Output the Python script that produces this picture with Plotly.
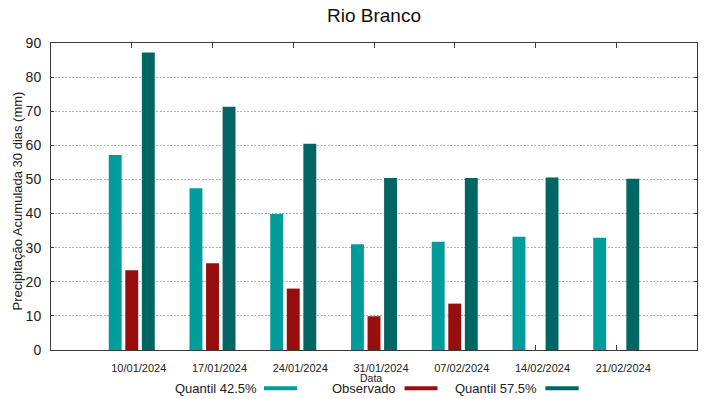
import plotly.graph_objects as go

# ---- data ----
dates = ["10/01/2024", "17/01/2024", "24/01/2024", "31/01/2024",
         "07/02/2024", "14/02/2024", "21/02/2024"]
series_names = ["Quantil 42.5%", "Observado", "Quantil 57.5%"]
q425 = [57.2, 47.4, 39.9, 31.0, 31.7, 33.2, 32.9]
observado = [23.4, 25.4, 18.0, 9.9, 13.6, None, None]
q575 = [87.2, 71.3, 60.5, 50.4, 50.4, 50.6, 50.2]
y_ticks = [0, 10, 20, 30, 40, 50, 60, 70, 80, 90]

colors = ["#009b9b", "#980e0e", "#006664"]
FONT = "Liberation Sans, Arial, Helvetica, sans-serif"

fig = go.Figure()
for name, vals, col in zip(series_names, [q425, observado, q575], colors):
    fig.add_trace(go.Bar(x=dates, y=vals, name=name, marker=dict(color=col, line=dict(width=0)),
                         showlegend=False))

fig.update_layout(
    width=719, height=399,
    margin=dict(l=51, r=22, t=43, b=49),
    paper_bgcolor="white", plot_bgcolor="white",
    barmode="group", bargap=0.385, bargroupgap=0.22,
    font=dict(family=FONT, color="#222222"),
    title=dict(text="Rio Branco", x=(374 - 51) / 646, xref="paper", xanchor="center",
               y=1 - 15 / 399, yref="container", yanchor="middle",
               font=dict(size=19, family=FONT, color="#111111")),
)

fig.update_xaxes(
    type="category", range=[-1, 7],
    showline=True, linecolor="#3a3a3a", linewidth=1, mirror="ticks",
    ticks="inside", ticklen=5, tickcolor="#3a3a3a", tickwidth=1,
    showgrid=False, zeroline=False,
    tickfont=dict(size=11, family=FONT, color="#222222"),
    ticklabelshift=7, ticklabelstandoff=8,
    layer="below traces",
)
fig.update_yaxes(
    range=[0, 90], tickvals=y_ticks,
    showline=True, linecolor="#3a3a3a", linewidth=1, mirror="ticks",
    ticks="inside", ticklen=3, tickcolor="#3a3a3a",
    showgrid=True, gridcolor="#b0b0b0", gridwidth=1, griddash="2px,1.5px",
    zeroline=False,
    tickfont=dict(size=14, family=FONT, color="#222222"),
    ticklabelstandoff=6,
)

ann = []
# y axis title
ann.append(dict(text="Precipitação Acumulada 30 dias (mm)", textangle=-90,
                xref="paper", yref="paper", x=(17 - 51) / 646, y=(350 - 201.5) / 307,
                xanchor="center", yanchor="middle", showarrow=False, borderpad=0,
                font=dict(size=13, family=FONT, color="#222222")))
# x axis title
ann.append(dict(text="Data", xref="paper", yref="paper",
                x=(370.5 - 51) / 646, y=(350 - 378) / 307,
                xanchor="center", yanchor="middle", showarrow=False, borderpad=0,
                font=dict(size=10.5, family=FONT, color="#222222")))

# custom legend (text followed by swatch, gnuplot style)
text_right = [257.5, 397.0, 537.5]
sw_left = [264.0, 404.6, 545.4]
sw_right = [297.0, 437.5, 578.7]
shapes = []
for name, col, tr, sl, sr in zip(series_names, colors, text_right, sw_left, sw_right):
    ann.append(dict(text=name, xref="paper", yref="paper",
                    x=(tr - 51) / 646, y=(350 - 388) / 307,
                    xanchor="right", yanchor="middle", showarrow=False, borderpad=0,
                    font=dict(size=13, family=FONT, color="#222222")))
    shapes.append(dict(type="rect", xref="paper", yref="paper",
                       x0=(sl - 51) / 646, x1=(sr - 51) / 646,
                       y0=(350 - 386.3) / 307, y1=(350 - 390.3) / 307,
                       fillcolor=col, line=dict(width=0)))

fig.update_layout(annotations=ann, shapes=shapes)
fig.write_html("out.html", config={"displayModeBar": False},
               post_script="document.body.style.margin='0';document.body.style.padding='0';")
